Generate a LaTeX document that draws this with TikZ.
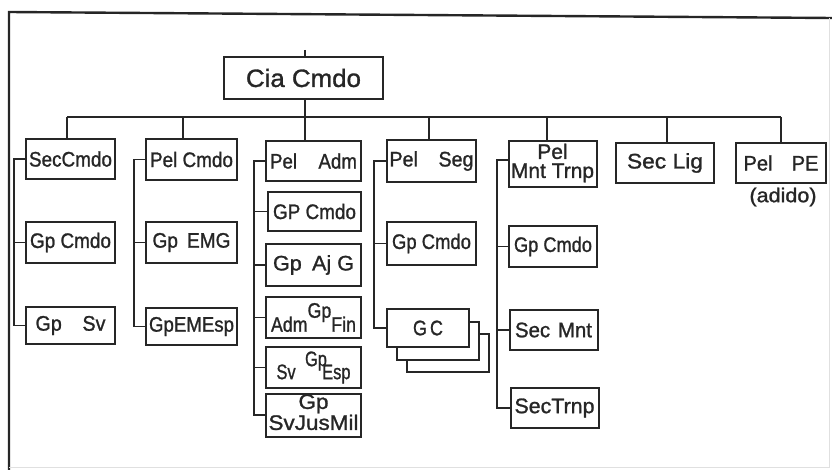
\documentclass[tikz,border=0pt]{standalone}
\usepackage{fontspec}
\usepackage{graphicx}
\setmainfont[FakeBold=1.2]{Liberation Sans}
\definecolor{ink}{HTML}{262626}
\newcommand{\fitto}[2]{\resizebox{#1}{\height}{#2}}
\begin{document}
\begin{tikzpicture}[x=1pt,y=-1pt,
  ubox/.style={draw=ink, line width=2pt, inner sep=0pt, fill=white, text=ink,
    font=\fontsize{21}{22}\selectfont},
  wire/.style={draw=ink, line width=1.8pt},
  plain/.style={inner sep=0pt, text=ink, font=\fontsize{20}{21}\selectfont}]
\useasboundingbox (0,0) rectangle (832,470);
% frame
\coordinate (fa) at (9,470);
\coordinate (fb) at (9,12);
\coordinate (fc) at (832,18);
\coordinate (fd) at (829,18);
\coordinate (fe) at (829,467);
\coordinate (ff) at (9,467);
\draw[ink, line width=2.4pt] (fa) -- (fb) -- (fc);
\draw[black!12, line width=1pt] (fd) -- (fe) -- (ff);

% top
\node[ubox, minimum width=159pt, minimum height=42pt] (cia) at (303.5,78)
  {\fontsize{25}{25}\selectfont\fitto{115pt}{Cia Cmdo}};

% column 1
\node[ubox, minimum width=89pt, minimum height=40pt] (secc) at (70.5,159) {\fitto{83pt}{SecCmdo}};
\node[ubox, minimum width=89pt, minimum height=41pt] (gpc1) at (70.5,242.5) {\fitto{81pt}{Gp Cmdo}};
\node[ubox, minimum width=89pt, minimum height=37pt] (gpsv) at (70.5,325.5) {\fitto{70pt}{Gp\hspace{22pt}Sv}};

% column 2
\node[ubox, minimum width=91pt, minimum height=41pt] (pelc) at (191.5,159.5) {\fitto{83pt}{Pel Cmdo}};
\node[ubox, minimum width=91pt, minimum height=41pt] (gpemg) at (191.5,242.5) {\fitto{78pt}{Gp\hspace{10pt}EMG}};
\node[ubox, minimum width=91pt, minimum height=37pt] (gpemesp) at (191.5,326.5) {\fitto{85pt}{GpEMEsp}};

% column 3
\node[ubox, minimum width=95pt, minimum height=40pt] (peladm) at (313.5,161) {\fitto{87pt}{Pel\hspace{24pt}Adm}};
\node[ubox, minimum width=93pt, minimum height=39pt] (gpcmdo3) at (314.5,211.5) {\fitto{83pt}{GP Cmdo}};
\node[ubox, minimum width=95pt, minimum height=42pt] (gpajg) at (313.5,265) {\fitto{81pt}{Gp\hspace{10pt}Aj G}};
\node[ubox, minimum width=95pt, minimum height=41pt] (gpadm) at (313.5,317.5) {\fitto{85pt}{Adm\raisebox{14pt}{Gp}Fin}};
\node[ubox, minimum width=95pt, minimum height=41pt] (gpsvesp) at (313.5,367.5) {\fitto{74pt}{Sv\hspace{12pt}\raisebox{13pt}{Gp}\hspace{-6pt}Esp}};
\node[ubox, minimum width=95pt, minimum height=40pt] (gpsvjm) at (313.5,415)
  {\fitto{90pt}{\begin{tabular}{@{}c@{}}Gp\\[-1pt]SvJusMil\end{tabular}}};

% column 4
\node[ubox, minimum width=89pt, minimum height=42pt] (pelseg) at (431.5,161) {\fitto{84pt}{Pel\hspace{22pt}Seg}};
\node[ubox, minimum width=89pt, minimum height=43pt] (gpc4) at (431.5,243.5) {\fitto{79pt}{Gp Cmdo}};
\node[ubox, minimum width=82pt, minimum height=38pt] (gcc) at (447.5,353) {};
\node[ubox, minimum width=82pt, minimum height=38pt] (gcb) at (438,341) {};
\node[ubox, minimum width=82pt, minimum height=38pt] (gc) at (428,328) {\fitto{30pt}{G\,C}};

% column 5
\node[ubox, minimum width=88pt, minimum height=46pt] (pelmnt) at (552.5,164)
  {\fitto{83pt}{\begin{tabular}{@{}c@{}}Pel\\[-3pt]Mnt Trnp\end{tabular}}};
\node[ubox, minimum width=88pt, minimum height=41pt] (gpc5) at (553,246.5) {\fitto{78pt}{Gp Cmdo}};
\node[ubox, minimum width=88pt, minimum height=40pt] (secmnt) at (553.5,330) {\fitto{77pt}{Sec\hspace{8pt}Mnt}};
\node[ubox, minimum width=88pt, minimum height=40pt] (sectrnp) at (554.5,408) {\fitto{80pt}{SecTrnp}};

% columns 6, 7
\node[ubox, minimum width=98pt, minimum height=40pt] (seclig) at (665,163) {\fitto{76pt}{Sec\hspace{6pt}Lig}};
\node[ubox, minimum width=90pt, minimum height=40pt] (pelpe) at (781,163) {\fitto{75pt}{Pel\hspace{20pt}PE}};
\node[plain] (adido) at (783,197) {\fitto{67pt}{(adido)}};

% bus
\coordinate (tk) at (305,50);
\coordinate (b1) at (67,117);
\coordinate (b2) at (183,117);
\coordinate (b3) at (305,117);
\coordinate (b4) at (429,117);
\coordinate (b5) at (547,117);
\coordinate (b6) at (667,117);
\coordinate (b7) at (781,117);
\draw[wire] (tk) -- (tk |- cia.north);
\draw[wire] (cia.south -| b3) -- (b3);
\draw[wire] (b1) -- (b7);
\draw[wire] (b1) -- (b1 |- secc.north);
\draw[wire] (b2) -- (b2 |- pelc.north);
\draw[wire] (b3) -- (b3 |- peladm.north);
\draw[wire] (b4) -- (b4 |- pelseg.north);
\draw[wire] (b5) -- (b5 |- pelmnt.north);
\draw[wire] (b6) -- (b6 |- seclig.north);
\draw[wire] (b7) -- (b7 |- pelpe.north);

% spines
\coordinate (s1) at (14,0);
\coordinate (s2) at (134,0);
\coordinate (s3) at (254,0);
\coordinate (s4) at (374,0);
\coordinate (s5) at (497,0);
\draw[wire] (secc.west) -- (secc.west -| s1) |- (gpsv.west);
\draw[wire] (gpc1.west) -- (gpc1.west -| s1);
\draw[wire] (pelc.west) -- (pelc.west -| s2) |- (gpemesp.west);
\draw[wire] (gpemg.west) -- (gpemg.west -| s2);
\draw[wire] (peladm.west) -- (peladm.west -| s3) |- (gpsvjm.west);
\draw[wire] (gpcmdo3.west) -- (gpcmdo3.west -| s3);
\draw[wire] (gpajg.west) -- (gpajg.west -| s3);
\draw[wire] (gpadm.west) -- (gpadm.west -| s3);
\draw[wire] (gpsvesp.west) -- (gpsvesp.west -| s3);
\draw[wire] (pelseg.west) -- (pelseg.west -| s4) |- (gc.west);
\draw[wire] (gpc4.west) -- (gpc4.west -| s4);
\draw[wire] ([yshift=4pt]pelmnt.west) -- ([yshift=4pt]pelmnt.west -| s5) |- (sectrnp.west);
\draw[wire] (gpc5.west) -- (gpc5.west -| s5);
\draw[wire] (secmnt.west) -- (secmnt.west -| s5);
\end{tikzpicture}
\end{document}
